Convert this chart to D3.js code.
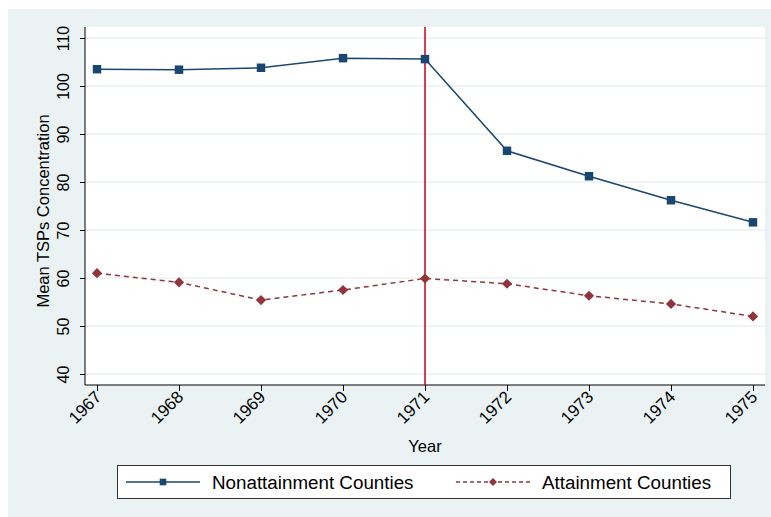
<!DOCTYPE html>
<html>
<head>
<meta charset="utf-8">
<script src="https://cdn.jsdelivr.net/npm/d3@7"></script>
<style>
  body { margin: 0; background: #fff; }
  svg { display: block; font-family: Arial, "Liberation Sans", sans-serif; }
</style>
</head>
<body>
<svg width="771" height="517"></svg>
<script>
// Data
var years = [1967, 1968, 1969, 1970, 1971, 1972, 1973, 1974, 1975];
var nonattainment = [103.5, 103.4, 103.8, 105.8, 105.6, 86.5, 81.2, 76.2, 71.6];
var attainment = [61.0, 59.1, 55.4, 57.5, 59.9, 58.8, 56.3, 54.6, 52.0];
var yTicks = [40, 50, 60, 70, 80, 90, 100, 110];
var cutoffYear = 1971;
var seriesNames = ['Nonattainment Counties', 'Attainment Counties'];

var navy = '#1a476f', maroon = '#90353b', red = '#c8102e';

var svg = d3.select('svg');

// Stata-like outer background
svg.append('rect').attr('x', 8).attr('y', 9).attr('width', 763).attr('height', 508).attr('fill', '#eaf2f3');

// plot region
var plot = {left: 85, right: 765, top: 27, bottom: 385};
svg.append('rect').attr('x', plot.left).attr('y', plot.top)
  .attr('width', plot.right - plot.left).attr('height', plot.bottom - plot.top).attr('fill', '#fff');

var x = d3.scaleLinear().domain([1967, 1975]).range([97, 753]);
var y = d3.scaleLinear().domain([40, 110]).range([374, 38]);

// gridlines
svg.append('g').selectAll('line').data(yTicks).enter().append('line')
  .attr('x1', plot.left).attr('x2', plot.right)
  .attr('y1', d => y(d)).attr('y2', d => y(d))
  .attr('stroke', '#eaf2f3').attr('stroke-width', 1.5);

// axes
var yAxis = svg.append('g').attr('transform', 'translate(' + plot.left + ',0)')
  .call(d3.axisLeft(y).tickValues(yTicks).tickSize(5).tickSizeOuter(0));
yAxis.select('.domain').attr('d', 'M0,' + plot.top + 'V' + plot.bottom);
yAxis.selectAll('text')
  .attr('text-anchor', 'middle')
  .attr('x', 0).attr('y', 0).attr('dy', 0)
  .attr('transform', 'translate(-16,0) rotate(-90)');

var xAxis = svg.append('g').attr('transform', 'translate(0,' + plot.bottom + ')')
  .call(d3.axisBottom(x).tickValues(years).tickFormat(d3.format('d')).tickSize(6).tickSizeOuter(0));
xAxis.select('.domain').attr('d', 'M' + plot.left + ',0H' + plot.right);
xAxis.selectAll('text')
  .attr('text-anchor', 'end')
  .attr('dy', 0)
  .attr('y', 0)
  .attr('transform', 'translate(5,13) rotate(-45)');

svg.selectAll('.tick text').attr('font-size', 16).attr('fill', '#000').attr('font-family', 'Arial, "Liberation Sans", sans-serif');
xAxis.selectAll('.tick text').attr('font-size', 17);
svg.selectAll('.domain, .tick line').attr('stroke', '#000').attr('stroke-width', 1);

// axis titles
svg.append('text').attr('transform', 'translate(49,' + ((plot.top + plot.bottom) / 2 + 5) + ') rotate(-90)')
  .attr('text-anchor', 'middle').attr('font-size', 16.5).text('Mean TSPs Concentration');
svg.append('text').attr('x', (plot.left + plot.right) / 2).attr('y', 452)
  .attr('text-anchor', 'middle').attr('font-size', 16.5).text('Year');

// cutoff line
svg.append('line').attr('x1', x(cutoffYear)).attr('x2', x(cutoffYear))
  .attr('y1', plot.top).attr('y2', plot.bottom)
  .attr('stroke', red).attr('stroke-width', 1.6);

var line = d3.line().x(d => x(d[0])).y(d => y(d[1]));
var nonData = years.map((yr, i) => [yr, nonattainment[i]]);
var attData = years.map((yr, i) => [yr, attainment[i]]);

svg.append('path').datum(nonData).attr('d', line)
  .attr('fill', 'none').attr('stroke', navy).attr('stroke-width', 1.5);
svg.append('path').datum(attData).attr('d', line)
  .attr('fill', 'none').attr('stroke', maroon).attr('stroke-width', 1.5).attr('stroke-dasharray', '5,4');

var square = d3.symbol().type(d3.symbolSquare).size(72);
var diamond = d3.symbol().type(d3.symbolSquare).size(52);

svg.append('g').selectAll('path').data(nonData).enter().append('path')
  .attr('d', square).attr('fill', navy)
  .attr('transform', d => 'translate(' + x(d[0]) + ',' + y(d[1]) + ')');
svg.append('g').selectAll('path').data(attData).enter().append('path')
  .attr('d', diamond).attr('fill', maroon)
  .attr('transform', d => 'translate(' + x(d[0]) + ',' + y(d[1]) + ') rotate(45)');

// legend
var legend = svg.append('g');
legend.append('rect').attr('x', 117.5).attr('y', 465.5).attr('width', 613).attr('height', 33)
  .attr('fill', '#fff').attr('stroke', '#333').attr('stroke-width', 1);

var squareSm = d3.symbol().type(d3.symbolSquare).size(44);
var diamondSm = d3.symbol().type(d3.symbolSquare).size(32);
var items = [
  {name: seriesNames[0], color: navy, dash: null, sym: squareSm, rot: 0, x0: 126},
  {name: seriesNames[1], color: maroon, dash: '4,3', sym: diamondSm, rot: 45, x0: 456}
];
items.forEach(function(it) {
  legend.append('line').attr('x1', it.x0).attr('x2', it.x0 + 74).attr('y1', 482).attr('y2', 482)
    .attr('stroke', it.color).attr('stroke-width', 1.5).attr('stroke-dasharray', it.dash);
  legend.append('path').attr('d', it.sym).attr('fill', it.color)
    .attr('transform', 'translate(' + (it.x0 + 37) + ',482) rotate(' + it.rot + ')');
  legend.append('text').attr('x', it.x0 + 86).attr('y', 488.5).attr('font-size', 18.8).text(it.name);
});
</script>
</body>
</html>
